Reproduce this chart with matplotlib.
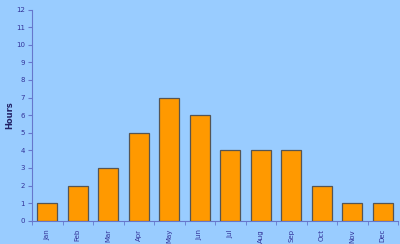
import matplotlib
matplotlib.use("Agg")
import matplotlib.pyplot as plt
import numpy as np

months = ["Jan", "Feb", "Mar", "Apr", "May", "Jun", "Jul", "Aug", "Sep", "Oct", "Nov", "Dec"]
hours = [1, 2, 3, 5, 7, 6, 4, 4, 4, 2, 1, 1]
yticks = list(range(0, 13))

bg = "#99CCFF"
txt = "#333399"
axc = "#6677CC"

fig = plt.figure(figsize=(4.0, 2.44), dpi=100, facecolor=bg)
ax = fig.add_axes([0.08, 0.0955, 0.915, 0.865], facecolor=bg)

x = np.arange(len(months))
ax.bar(x, hours, width=0.66, color="#FF9900", edgecolor="#555555", linewidth=0.9, zorder=3)

ax.set_xlim(-0.5, len(months) - 0.5)
ax.set_ylim(0, 12)
ax.set_yticks(yticks)
ax.set_yticklabels([str(v) for v in yticks], fontsize=5, color=txt)
ax.set_xticks(x)
ax.set_xticklabels(months, rotation=90, fontsize=5, color=txt)
ax.tick_params(axis="x", length=0, pad=6)
ax.set_xticks(np.arange(-0.5, len(months)), minor=True)
ax.tick_params(axis="x", which="minor", length=3, color=axc, direction="out")
ax.tick_params(axis="y", length=3, color=axc, direction="out", pad=2)

for s in ["top", "right"]:
    ax.spines[s].set_visible(False)
for s in ["left", "bottom"]:
    ax.spines[s].set_color(axc)
    ax.spines[s].set_linewidth(0.8)

fig.text(10 / 400, 1 - 115 / 244, "Hours", rotation=90, fontsize=6, fontweight="bold",
         color="#222266", ha="center", va="center")

fig.savefig("out.png", dpi=100, facecolor=bg)
